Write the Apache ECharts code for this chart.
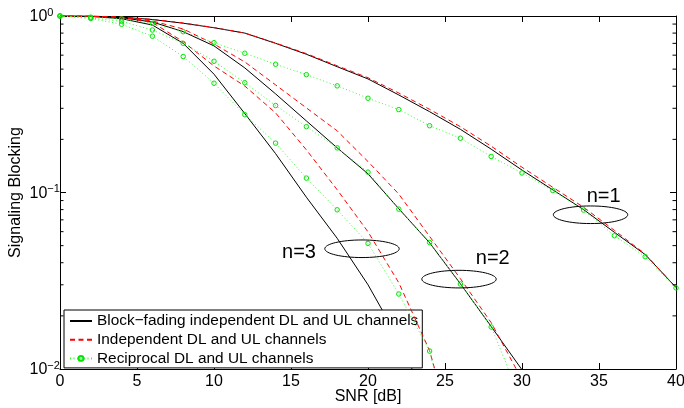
<!DOCTYPE html>
<html>
<head>
<meta charset="utf-8">
<script src="https://cdn.jsdelivr.net/npm/echarts@6/dist/echarts.min.js"></script>
<style>
html, body { margin: 0; padding: 0; background: #fff; }
#chart { width: 684px; height: 408px; }
</style>
</head>
<body>
<div id="chart"></div>
<script>
// SNR grid in dB (curves sampled every 2 dB)
const snr = [0, 2, 4, 6, 8, 10, 12, 14, 16, 18, 20, 22, 24, 26, 28, 30, 32, 34, 36, 38, 40];

// n = 1
const blockN1 = [1, 0.998, 0.985, 0.955, 0.91, 0.858, 0.80, 0.70, 0.607, 0.516, 0.44, 0.357, 0.287, 0.228, 0.176, 0.134, 0.1035, 0.080, 0.0595, 0.0445, 0.029];
const indepN1 = [1, 0.998, 0.986, 0.957, 0.913, 0.86, 0.80, 0.703, 0.612, 0.522, 0.447, 0.366, 0.296, 0.236, 0.183, 0.139, 0.107, 0.0825, 0.061, 0.0448, 0.0289];
const recipN1 = [1, 0.985, 0.962, 0.909, 0.815, 0.706, 0.615, 0.533, 0.465, 0.402, 0.342, 0.295, 0.239, 0.203, 0.160, 0.129, 0.1026, 0.0795, 0.0569, 0.0433, 0.0288];

// n = 2
const blockN2 = [1, 0.996, 0.978, 0.925, 0.815, 0.677, 0.508, 0.362, 0.2544, 0.179, 0.1276, 0.0809, 0.0519, 0.0304, 0.0174, 0.0099];
const indepN2 = [1, 0.997, 0.98, 0.937, 0.844, 0.694, 0.549, 0.407, 0.3015, 0.2235, 0.1498, 0.098, 0.0564, 0.0325, 0.0183, 0.0087];
const recipN2 = [1, 0.975, 0.933, 0.833, 0.70, 0.554, 0.419, 0.311, 0.236, 0.179, 0.1304, 0.0805, 0.0521, 0.0303, 0.0173, 0.0065];

// n = 3
const blockN3 = [1, 0.995, 0.965, 0.889, 0.70, 0.468, 0.28, 0.166, 0.094, 0.055, 0.030, 0.0147, 0.006];
const indepN3 = [1, 0.998, 0.985, 0.919, 0.715, 0.521, 0.401, 0.2825, 0.1744, 0.1036, 0.0599, 0.0308, 0.0127, 0.003];
const recipN3 = [1, 0.968, 0.898, 0.768, 0.589, 0.416, 0.276, 0.1904, 0.1207, 0.0798, 0.0515, 0.0266, 0.01264, 0.0024];

// Minor ticks of the log axis (2..9 per decade)
const minorTicks = [0.02, 0.03, 0.04, 0.05, 0.06, 0.07, 0.08, 0.09, 0.2, 0.3, 0.4, 0.5, 0.6, 0.7, 0.8, 0.9];

// Curve-group callouts: ellipse centre and label position in data units
const calloutLabels = ['n=1', 'n=2', 'n=3'];
const calloutEllipse = [[34.45, 0.0748], [25.91, 0.0323], [19.61, 0.048]];
const calloutText = [[35.3, 0.0945], [28.1, 0.0421], [15.52, 0.0456]];

const nameBlock = 'Block\u2212fading independent DL and UL channels';
const nameIndep = 'Independent DL and UL channels';
const nameRecip = 'Reciprocal DL and UL channels';

const FONT = '"Liberation Sans", Arial, Helvetica, sans-serif';

function pairs(values) {
  return values.map((v, i) => [snr[i], v]);
}

function blockSeries(values) {
  return {
    name: nameBlock, type: 'line', data: pairs(values), symbol: 'none',
    lineStyle: { color: '#000', width: 1, type: 'solid' },
    itemStyle: { color: '#000' }, z: 3, animation: false
  };
}
function indepSeries(values) {
  return {
    name: nameIndep, type: 'line', data: pairs(values), symbol: 'none',
    lineStyle: { color: '#ff0000', width: 1, type: [5, 3.5] },
    itemStyle: { color: '#ff0000' }, z: 4, animation: false
  };
}
function recipSeries(values) {
  return {
    name: nameRecip, type: 'line', data: pairs(values), symbol: 'circle', symbolSize: 4.5,
    lineStyle: { color: '#33ff33', width: 1, type: [1, 2.5] },
    itemStyle: { color: 'transparent', borderColor: '#00e600', borderWidth: 1 },
    z: 5, animation: false
  };
}

const chart = echarts.init(document.getElementById('chart'), null, { renderer: 'canvas' });

const option = {
  backgroundColor: '#fff',
  animation: false,
  textStyle: { fontFamily: FONT },
  grid: { left: 60, right: 8, top: 16, bottom: 39, containLabel: false, outerBoundsMode: 'none' },
  legend: {
    orient: 'vertical',
    left: 64, top: 310,
    padding: [3.5, 4, 2, 5],
    itemWidth: 22, itemHeight: 6, itemGap: 3.7,
    backgroundColor: '#fff', borderColor: '#000', borderWidth: 1,
    textStyle: { fontFamily: FONT, fontSize: 15.4, color: '#000' },
    data: [
      { name: nameBlock, itemStyle: { opacity: 0 } },
      { name: nameIndep, itemStyle: { opacity: 0 } },
      { name: nameRecip }
    ],
    selectedMode: false
  },
  xAxis: [
    {
      type: 'value', min: 0, max: 40, interval: 5, position: 'bottom',
      name: 'SNR [dB]', nameLocation: 'middle', nameGap: 20, nameMoveOverlap: false,
      nameTextStyle: { fontFamily: FONT, fontSize: 16, color: '#000' },
      axisLine: { onZero: false, lineStyle: { color: '#000', width: 1 } },
      axisTick: { inside: true, length: 6, lineStyle: { color: '#000' } },
      axisLabel: { margin: 5, fontFamily: FONT, fontSize: 16, color: '#000' },
      splitLine: { show: false }
    },
    {
      type: 'value', min: 0, max: 40, interval: 5, position: 'top',
      axisLine: { onZero: false, lineStyle: { color: '#000', width: 1 } },
      axisTick: { inside: true, length: 6, lineStyle: { color: '#000' } },
      axisLabel: { show: false }, splitLine: { show: false }
    }
  ],
  yAxis: [
    {
      type: 'log', logBase: 10, min: 0.01, max: 1, position: 'left',
      name: 'Signaling Blocking', nameLocation: 'middle', nameGap: 36.5, nameMoveOverlap: false,
      nameTextStyle: { fontFamily: FONT, fontSize: 16, color: '#000' },
      axisLine: { onZero: false, lineStyle: { color: '#000', width: 1 } },
      axisTick: { inside: true, length: 6, lineStyle: { color: '#000' } },
      axisLabel: {
        margin: 30.5, align: 'left', color: '#000',
        formatter: function (v) {
          const e = Math.round(Math.log10(v));
          const s = e === 0 ? '0' : '\u2212' + Math.abs(e);
          return '{b|10}{s|' + s + '}';
        },
        rich: {
          b: { fontFamily: FONT, fontSize: 16, lineHeight: 18, verticalAlign: 'bottom', color: '#000' },
          s: { fontFamily: FONT, fontSize: 11, lineHeight: 11, verticalAlign: 'top', color: '#000' }
        }
      },
      splitLine: { show: false }
    },
    {
      type: 'log', logBase: 10, min: 0.01, max: 1, position: 'right',
      axisLine: { onZero: false, lineStyle: { color: '#000', width: 1 } },
      axisTick: { inside: true, length: 6, lineStyle: { color: '#000' } },
      axisLabel: { show: false }, splitLine: { show: false }
    }
  ],
  series: [
    blockSeries(blockN1), blockSeries(blockN2), blockSeries(blockN3),
    indepSeries(indepN1), indepSeries(indepN2), indepSeries(indepN3),
    recipSeries(recipN1), recipSeries(recipN2), recipSeries(recipN3),
    {
      // minor ticks on the left and right frame edges
      type: 'custom', name: 'minorTicks', silent: true, z: 6,
      data: minorTicks.map(v => [0, v]),
      renderItem: function (params, api) {
        const cs = params.coordSys;
        const y = api.coord([0, api.value(1)])[1];
        const st = { stroke: '#000', lineWidth: 1 };
        return {
          type: 'group',
          children: [
            { type: 'line', shape: { x1: cs.x, y1: y, x2: cs.x + 3.5, y2: y }, style: st },
            { type: 'line', shape: { x1: cs.x + cs.width - 3.5, y1: y, x2: cs.x + cs.width, y2: y }, style: st }
          ]
        };
      }
    },
    {
      // n = 1..3 callouts: ellipse round each curve family plus its label
      type: 'custom', name: 'callouts', silent: true, z: 7, clip: false,
      data: calloutLabels.map((t, i) => [calloutEllipse[i][0], calloutEllipse[i][1], calloutText[i][0], calloutText[i][1], i]),
      renderItem: function (params, api) {
        const c = api.coord([api.value(0), api.value(1)]);
        const t = api.coord([api.value(2), api.value(3)]);
        const label = calloutLabels[api.value(4)];
        return {
          type: 'group',
          children: [
            { type: 'ellipse', shape: { cx: c[0], cy: c[1], rx: 37.2, ry: 8.8 },
              style: { fill: 'none', stroke: '#000', lineWidth: 1 } },
            { type: 'text', style: { text: label, x: t[0], y: t[1], align: 'center', verticalAlign: 'middle',
              fontFamily: FONT, fontSize: 20, fill: '#000' } }
          ]
        };
      }
    }
  ]
};

chart.setOption(option);
</script>
</body>
</html>
